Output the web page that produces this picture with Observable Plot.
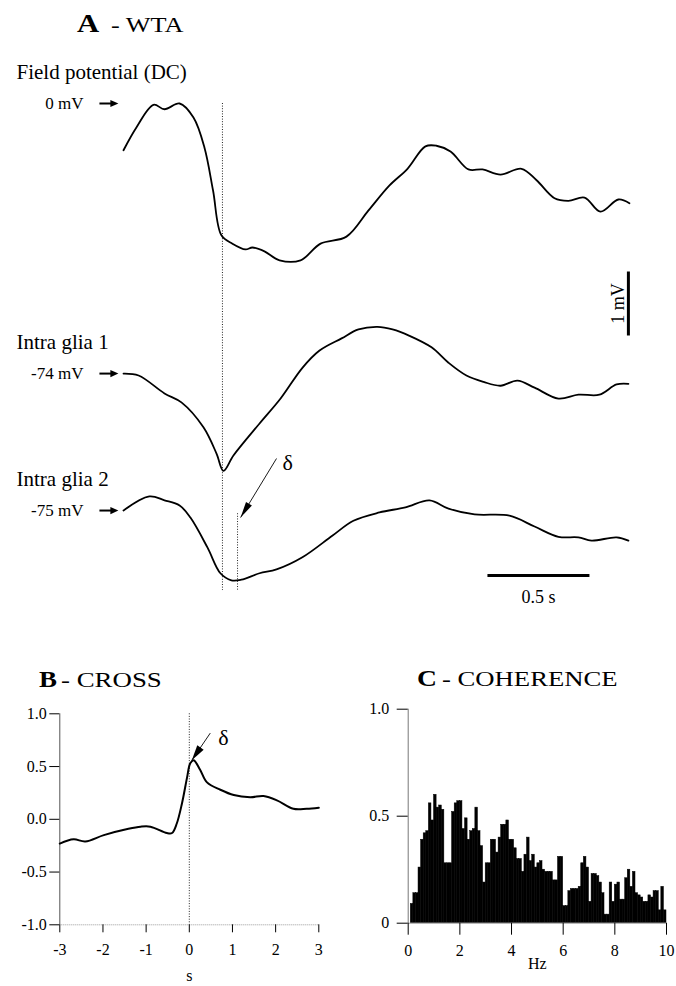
<!DOCTYPE html>
<html>
<head>
<meta charset="utf-8">
<script src="https://cdn.jsdelivr.net/npm/d3@7"></script>
<script src="https://cdn.jsdelivr.net/npm/@observablehq/plot@0.6"></script>
<style>
html,body{margin:0;padding:0;background:#fff;}
#page{position:relative;width:676px;height:986px;overflow:hidden;background:#fff;}
.panel{position:absolute;}
#page svg, #page svg text{font-family:"Liberation Serif","Times New Roman",Times,serif !important;}
</style>
</head>
<body>
<div id="page"></div>
<script>
// ---------------- DATA ----------------
// Panel A: wave-triggered averages (time in s, potential in mV)
const fieldT  = [0.000, 0.064, 0.147, 0.201, 0.275, 0.343, 0.397, 0.439, 0.480, 0.534, 0.598, 0.632, 0.691, 0.765, 0.868, 0.966, 1.093, 1.201, 1.304, 1.392, 1.480, 1.534, 1.603, 1.691, 1.760, 1.848, 1.951, 2.025, 2.113, 2.181, 2.260, 2.338, 2.426, 2.480];
const fieldMV = [-0.73, -0.37, -0.02, -0.09, 0.00, -0.22, -0.69, -1.36, -2.06, -2.19, -2.28, -2.25, -2.31, -2.45, -2.45, -2.19, -2.08, -1.67, -1.28, -1.02, -0.67, -0.66, -0.75, -1.03, -1.03, -1.11, -1.02, -1.20, -1.48, -1.52, -1.47, -1.69, -1.50, -1.56];

const glia1T  = [0.000, 0.074, 0.201, 0.284, 0.392, 0.456, 0.490, 0.539, 0.667, 0.770, 0.877, 0.961, 1.069, 1.152, 1.245, 1.319, 1.402, 1.510, 1.593, 1.681, 1.765, 1.848, 1.931, 2.015, 2.132, 2.230, 2.333, 2.417, 2.475];
const glia1MV = [-74.00, -74.03, -74.31, -74.45, -74.84, -75.25, -75.52, -75.28, -74.78, -74.39, -73.91, -73.64, -73.45, -73.31, -73.27, -73.31, -73.41, -73.59, -73.83, -74.03, -74.13, -74.19, -74.11, -74.22, -74.39, -74.33, -74.33, -74.17, -74.16];

const glia2T  = [0.000, 0.127, 0.201, 0.275, 0.328, 0.412, 0.475, 0.529, 0.578, 0.667, 0.750, 0.877, 1.025, 1.127, 1.255, 1.382, 1.500, 1.593, 1.721, 1.892, 2.015, 2.132, 2.230, 2.294, 2.417, 2.475];
const glia2MV = [-75.00, -74.78, -74.84, -74.92, -75.11, -75.58, -75.98, -76.09, -76.08, -75.98, -75.92, -75.73, -75.39, -75.16, -75.03, -74.95, -74.84, -74.97, -75.06, -75.08, -75.25, -75.41, -75.42, -75.47, -75.42, -75.47];

const traceNames  = ["Field potential (DC)", "Intra glia 1", "Intra glia 2"];
const traceRestMV = [0, -74, -75];
const traceRestLabels = ["0 mV", "-74 mV", "-75 mV"];
const alignTimes = [0.485, 0.559];          // dotted markers (s)
const scaleBarMV = 1, scaleBarMVLabel = "1 mV";
const scaleBarS = 0.5, scaleBarSLabel = "0.5 s";
const deltaLabel = "δ";

// Panel B: cross-correlation
const crossLag = [-3.0, -2.68, -2.41, -1.98, -1.41, -1.13, -0.90, -0.52, -0.40, -0.29, -0.17, -0.05, 0.02, 0.10, 0.25, 0.41, 0.72, 1.03, 1.41, 1.72, 2.03, 2.41, 2.72, 3.0];
const crossR   = [-0.23, -0.19, -0.21, -0.15, -0.09, -0.07, -0.07, -0.13, -0.13, -0.04, 0.15, 0.40, 0.53, 0.56, 0.47, 0.35, 0.28, 0.23, 0.21, 0.22, 0.18, 0.10, 0.10, 0.11];
const crossTicksX = [-3, -2, -1, 0, 1, 2, 3];
const crossTicksY = [-1, -0.5, 0, 0.5, 1];
const crossXLabel = "s";

// Panel C: coherence (0.1 Hz bins from 0 to 10 Hz)
const cohBinHz = 0.1;
const cohValues = [
 0.00,0.09,0.14,0.14,0.26,0.39,0.42,0.43,0.56,0.48,
 0.60,0.54,0.55,0.53,0.28,0.28,0.28,0.52,0.56,0.57,
 0.57,0.44,0.49,0.39,0.43,0.44,0.54,0.43,0.36,0.19,
 0.28,0.28,0.39,0.39,0.33,0.40,0.46,0.46,0.48,0.39,
 0.39,0.35,0.30,0.30,0.24,0.32,0.40,0.29,0.32,0.26,
 0.28,0.29,0.25,0.24,0.24,0.24,0.20,0.20,0.31,0.31,
 0.08,0.08,0.15,0.16,0.16,0.16,0.17,0.28,0.31,0.26,
 0.10,0.23,0.23,0.22,0.19,0.14,0.04,0.04,0.19,0.10,
 0.18,0.19,0.11,0.11,0.21,0.25,0.17,0.24,0.14,0.13,
 0.12,0.10,0.10,0.13,0.12,0.15,0.15,0.06,0.17,0.06];
const cohTicksX = [0, 2, 4, 6, 8, 10];
const cohTicksY = [0, 0.5, 1];
const cohXLabel = "Hz";

const panelLetters = ["A", "B", "C"];
const panelNames = ["- WTA", "- CROSS", "- COHERENCE"];

// ---------------- LAYOUT ----------------
const FONT = '"Liberation Serif", "Times New Roman", Times, serif';
const page = document.getElementById("page");
function place(el, left, top) {
  el.setAttribute("font-family", FONT);
  const d = document.createElement("div");
  d.className = "panel";
  d.style.left = left + "px";
  d.style.top = top + "px";
  d.appendChild(el);
  page.appendChild(d);
}
const baseStyle = {fontFamily: FONT, fontSize: "16px", color: "black", background: "transparent", overflow: "visible"};

// arrowhead symbol (tip at origin, pointing up before rotation)
function head(len, half) {
  return {draw(ctx, size) {
    const r = Math.sqrt(size / Math.PI);
    ctx.moveTo(0, 0);
    ctx.lineTo(half * r, len * r);
    ctx.lineTo(-half * r, len * r);
    ctx.closePath();
  }};
}
const headShort = head(2, 0.9);
const headLong = head(2.2, 0.47);
function angle(start, tip, pxX, pxY) {
  const dx = (tip[0] - start[0]) * pxX;
  const dy = -(tip[1] - start[1]) * pxY;
  return Math.atan2(dx, -dy) * 180 / Math.PI;
}

// ---------- Panel A ----------
const A_PX_S = 204, A_PX_MV = 64;
const stackShift = [0, -4.22, -6.36];  // vertical placement of each trace (mV units)
const traces = [
  {name: traceNames[0], rest: traceRestMV[0], label: traceRestLabels[0], t: fieldT, v: fieldMV, shift: stackShift[0]},
  {name: traceNames[1], rest: traceRestMV[1], label: traceRestLabels[1], t: glia1T, v: glia1MV, shift: stackShift[1]},
  {name: traceNames[2], rest: traceRestMV[2], label: traceRestLabels[2], t: glia2T, v: glia2MV, shift: stackShift[2]}
];
const lineData = traces.flatMap((tr, k) => tr.t.map((t, i) => ({k, t, y: tr.v[i] - tr.rest + tr.shift})));
const alignLines = [
  {t: alignTimes[0], y1: 0, y2: -7.61},
  {t: alignTimes[1], y1: -6.41, y2: -7.61}
];
const vBar = {t: 2.475, top: -2.625};
const hBar = {t: 1.784, y: -7.375};
const deltaA = {start: [0.75, -5.547], tip: [0.574, -6.469], text: [0.779, -5.61]};
const angA = angle(deltaA.start, deltaA.tip, A_PX_S, A_PX_MV);

const plotA = Plot.plot({
  width: 676, height: 610,
  marginLeft: 123, marginRight: 676 - 123 - 2.48 * A_PX_S, marginTop: 7, marginBottom: 7.8,
  x: {domain: [0, 2.48], axis: null},
  y: {domain: [-7.8, 1.5], axis: null},
  style: baseStyle,
  marks: [
    Plot.ruleX(alignLines, {x: "t", y1: "y1", y2: "y2", stroke: "#222", strokeWidth: 1, strokeDasharray: "1,1.6"}),
    Plot.line(lineData, {x: "t", y: "y", z: "k", stroke: "black", strokeWidth: 1.8, curve: "catmull-rom"}),
    Plot.text(traces, {x: () => 0, y: d => d.shift, text: "name", dx: -107, dy: -25, textAnchor: "start", lineAnchor: "bottom", fontSize: 21, fontFamily: FONT}),
    Plot.text(traces, {x: () => 0, y: d => d.shift, text: "label", dx: -40, textAnchor: "end", lineAnchor: "middle", fontSize: 17, fontFamily: FONT}),
    Plot.link(traces, {x1: () => -0.118, x2: () => -0.06, y1: d => d.shift, y2: d => d.shift, stroke: "black", strokeWidth: 2}),
    Plot.dot(traces, {x: () => -0.025, y: d => d.shift, r: 4, symbol: headShort, rotate: 90, fill: "black", stroke: "none"}),
    // 1 mV scale bar
    Plot.link([vBar], {x1: "t", x2: "t", y1: "top", y2: d => d.top - scaleBarMV, stroke: "black", strokeWidth: 3}),
    Plot.text([vBar], {x: d => d.t - 0.024, y: d => d.top - scaleBarMV / 2, text: () => scaleBarMVLabel, rotate: -90, textAnchor: "middle", lineAnchor: "bottom", fontSize: 18, fontFamily: FONT}),
    // 0.5 s scale bar
    Plot.link([hBar], {x1: "t", x2: d => d.t + scaleBarS, y1: "y", y2: "y", stroke: "black", strokeWidth: 3}),
    Plot.text([hBar], {x: d => d.t + scaleBarS / 2, y: "y", dy: 22, text: () => scaleBarSLabel, textAnchor: "middle", fontSize: 18, fontFamily: FONT}),
    // delta annotation
    Plot.link([deltaA], {x1: d => d.start[0], y1: d => d.start[1], x2: d => d.tip[0], y2: d => d.tip[1], stroke: "black", strokeWidth: 0.9}),
    Plot.dot([deltaA], {x: d => d.tip[0], y: d => d.tip[1], r: 7.3, symbol: headLong, rotate: angA, fill: "black", stroke: "none"}),
    Plot.text([deltaA], {x: d => d.text[0], y: d => d.text[1], text: () => deltaLabel, textAnchor: "start", fontSize: 22, fontFamily: FONT})
  ]
});
place(plotA, 0, 0);

// ---------- Panel B ----------
const B_PX_X = 43.17, B_PX_Y = 105.5;
const cross = crossLag.map((lag, i) => ({lag, r: crossR[i]}));
const deltaB = {start: [0.486, 0.817], tip: [0.058, 0.56], text: [0.671, 0.77]};
const angB = angle(deltaB.start, deltaB.tip, B_PX_X, B_PX_Y);
const plotB = Plot.plot({
  width: 340, height: 296,
  marginLeft: 59.3, marginRight: 21.7, marginTop: 23.3, marginBottom: 61.7,
  x: {domain: [-3, 3]},
  y: {domain: [-1, 1]},
  style: baseStyle,
  marks: [
    Plot.ruleY([-1], {stroke: "#999", strokeDasharray: "1,1"}),
    Plot.ruleX([-3], {stroke: "#555"}),
    Plot.ruleX([0], {stroke: "#222", strokeDasharray: "1,1.6"}),
    Plot.line(cross, {x: "lag", y: "r", stroke: "black", strokeWidth: 2, curve: "catmull-rom"}),
    Plot.link([deltaB], {x1: d => d.start[0], y1: d => d.start[1], x2: d => d.tip[0], y2: d => d.tip[1], stroke: "black", strokeWidth: 0.9}),
    Plot.dot([deltaB], {x: d => d.tip[0], y: d => d.tip[1], r: 7, symbol: head(2.2, 0.55), rotate: angB, fill: "black", stroke: "none"}),
    Plot.text([deltaB], {x: d => d.text[0], y: d => d.text[1], text: () => deltaLabel, textAnchor: "start", fontSize: 22, fontFamily: FONT}),
    Plot.axisX({ticks: crossTicksX, tickSize: 8, tickPadding: 11, tickFormat: d => String(d), label: null, fontSize: 16, fontFamily: FONT}),
    Plot.axisY({ticks: crossTicksY, tickSize: 10, tickPadding: 3, tickFormat: d => d.toFixed(1), label: null, fontSize: 16, fontFamily: FONT}),
    Plot.text([crossXLabel], {frameAnchor: "bottom", dy: 56, text: d => d, fontSize: 16, fontFamily: FONT})
  ]
});
place(plotB, 0, 690);

// ---------- Panel C ----------
const coh = cohValues.map((v, i) => ({f0: i * cohBinHz, f1: (i + 1) * cohBinHz, v}));
const plotC = Plot.plot({
  width: 336, height: 296,
  marginLeft: 67.7, marginRight: 10, marginTop: 18.7, marginBottom: 63.3,
  x: {domain: [0, 10]},
  y: {domain: [0, 1]},
  style: baseStyle,
  marks: [
    Plot.rectY(coh, {x1: "f0", x2: "f1", y: "v", fill: "black", stroke: "black", strokeWidth: 0.5}),
    Plot.ruleY([0], {stroke: "#999"}),
    Plot.ruleX([0], {stroke: "#777"}),
    Plot.axisX({ticks: cohTicksX, tickSize: 12, tickPadding: 9, tickFormat: d => String(d), label: null, fontSize: 16, fontFamily: FONT}),
    Plot.axisY({ticks: cohTicksY, tickSize: 11, tickPadding: 8, tickFormat: d => d === 0 ? "0" : d.toFixed(1), label: null, fontSize: 16, fontFamily: FONT}),
    Plot.text([cohXLabel], {frameAnchor: "bottom", dy: 46, text: d => d, fontSize: 16, fontFamily: FONT})
  ]
});
place(plotC, 340, 690);

// ---------- Panel titles ----------
const titleLayout = [
  {lx: 77, ly: 32, ls: 26, lsx: 1.18, nx: 111, ny: 32, nsx: 1.25},
  {lx: 39, ly: 687, ls: 23, lsx: 1.17, nx: 61, ny: 687, nsx: 1.28},
  {lx: 417, ly: 686, ls: 23, lsx: 1.2, nx: 442, ny: 686, nsx: 1.27}
];
const ov = d3.create("svg")
  .attr("width", 676).attr("height", 986)
  .attr("font-family", FONT)
  .style("position", "absolute").style("left", "0").style("top", "0")
  .style("pointer-events", "none");
titleLayout.forEach((p, i) => {
  ov.append("text").attr("transform", `translate(${p.lx},${p.ly}) scale(${p.lsx},1)`)
    .attr("font-size", p.ls).attr("font-weight", "bold").text(panelLetters[i]);
  ov.append("text").attr("transform", `translate(${p.nx},${p.ny}) scale(${p.nsx},1)`)
    .attr("font-size", 21).text(panelNames[i]);
});
page.appendChild(ov.node());
</script>
</body>
</html>
